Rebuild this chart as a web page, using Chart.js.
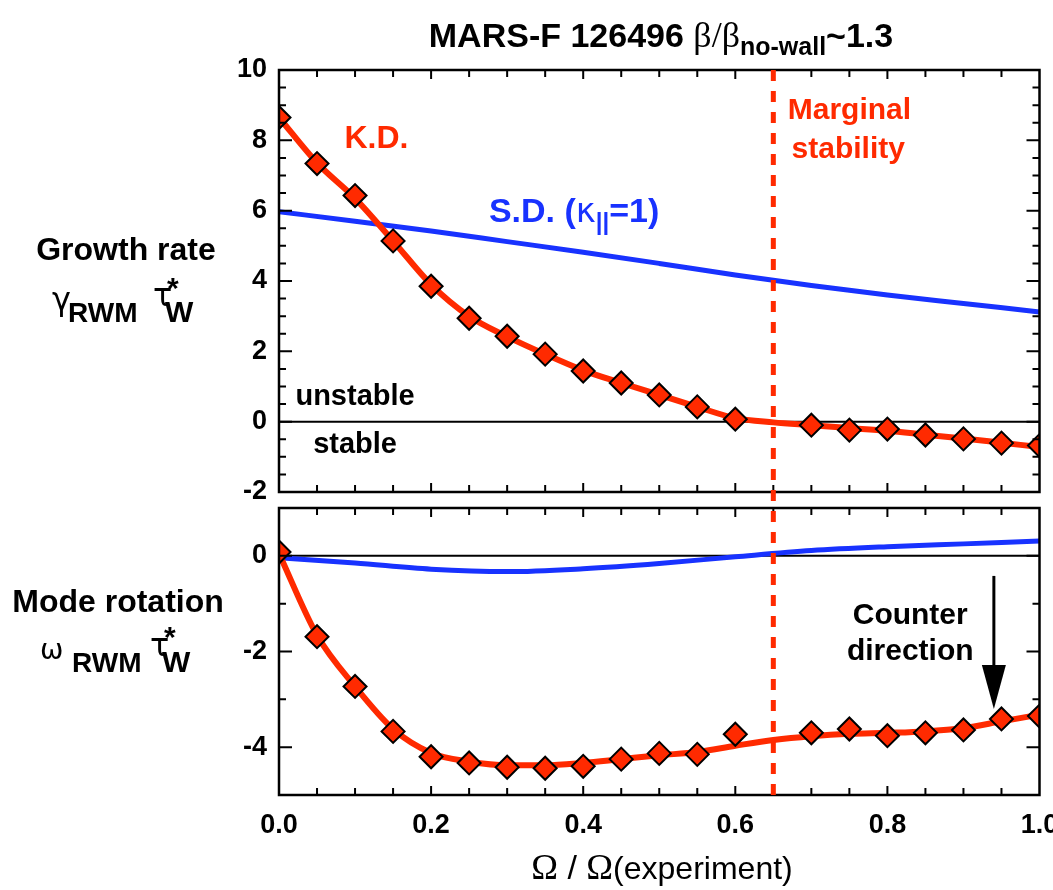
<!DOCTYPE html>
<html>
<head>
<meta charset="utf-8">
<title>MARS-F 126496</title>
<script src="https://cdn.jsdelivr.net/npm/chart.js@4.4.1/dist/chart.umd.min.js"></script>
<style>
  body { margin: 0; background: #fff; }
  #wrap { position: relative; width: 1053px; height: 890px; }
  #wrap canvas { position: absolute; left: 0; top: 0; }
</style>
</head>
<body>
<div id="wrap">
  <canvas id="growthChart" width="1053" height="890"></canvas>
  <canvas id="rotationChart" width="1053" height="890"></canvas>
</div>
<script>
// Omega / Omega(experiment) where MARS-F was run (K.D. model, 0.65 skipped)
const kdOmega = [0, 0.05, 0.1, 0.15, 0.2, 0.25, 0.3, 0.35, 0.4, 0.45, 0.5, 0.55, 0.6,
                 0.7, 0.75, 0.8, 0.85, 0.9, 0.95, 1.0];
const kdGrowth = [8.65, 7.34, 6.43, 5.14, 3.85, 2.94, 2.43, 1.92, 1.44, 1.10, 0.76, 0.42, 0.07,
                  -0.10, -0.24, -0.21, -0.38, -0.49, -0.61, -0.68];
const kdRotation = [0.08, -1.69, -2.73, -3.67, -4.20, -4.33, -4.42, -4.44, -4.40, -4.25, -4.13, -4.15, -3.73,
                    -3.70, -3.62, -3.76, -3.70, -3.64, -3.41, -3.35];

// smooth K.D. fit curves
const fitOmega = [0, 0.05, 0.1, 0.15, 0.2, 0.25, 0.3, 0.35, 0.4, 0.45, 0.5,
                  0.55, 0.6, 0.65, 0.7, 0.75, 0.8, 0.85, 0.9, 0.95, 1.0];
const kdGrowthFit = [8.65, 7.36, 6.35, 5.14, 3.9, 3.0, 2.42, 1.92, 1.46, 1.1, 0.76,
                     0.42, 0.1, -0.02, -0.1, -0.18, -0.26, -0.37, -0.48, -0.6, -0.72];
const kdRotationFit = [0.05, -1.66, -2.73, -3.62, -4.12, -4.3, -4.38, -4.38, -4.33, -4.25, -4.17,
                       -4.1, -3.97, -3.85, -3.77, -3.72, -3.7, -3.67, -3.6, -3.46, -3.32];

// S.D. model (kappa_par = 1)
const sdOmega = [0, 0.1, 0.2, 0.3, 0.4, 0.5, 0.6, 0.7, 0.8, 0.9, 1.0];
const sdGrowth = [5.97, 5.7, 5.42, 5.12, 4.82, 4.5, 4.17, 3.87, 3.6, 3.36, 3.12];
const sdRotation = [-0.04, -0.15, -0.28, -0.33, -0.27, -0.16, -0.02, 0.11, 0.19, 0.25, 0.31];

const marginalOmega = 0.65;

const RED = '#ff2a00';
const BLUE = '#1832ff';
const SANS = '"Liberation Sans", Arial, sans-serif';
const SERIF = '"Liberation Serif", "Times New Roman", serif';
const GREEK = '"DejaVu Sans", sans-serif';

function f(size, weight, fam) {
    return (weight || 'bold') + ' ' + size + 'px ' + (fam || SANS);
}

function pts(xs, ys) {
    return xs.map((x, i) => ({ x: x, y: ys[i] }));
}

// draws a row of text pieces with different fonts on one baseline
function drawRuns(ctx, runs, x, y, align, color) {
    let w = 0;
    runs.forEach(r => {
        ctx.font = r.font;
        r.w = ctx.measureText(r.text).width;
        w += r.w;
    });
    let cx = align === 'center' ? x - w / 2 : (align === 'right' ? x - w : x);
    ctx.textAlign = 'left';
    ctx.textBaseline = 'alphabetic';
    runs.forEach(r => {
        ctx.font = r.font;
        ctx.fillStyle = r.color || color || '#000';
        ctx.fillText(r.text, cx, y + (r.dy || 0));
        cx += r.w;
    });
}

const panelDecor = {
    id: 'panelDecor',
    beforeDatasetsDraw(chart) {
        const { ctx, chartArea: a, scales: { y } } = chart;
        const y0 = y.getPixelForValue(0);
        ctx.save();
        ctx.strokeStyle = '#000';
        ctx.lineWidth = 2;
        ctx.beginPath();
        ctx.moveTo(a.left, y0);
        ctx.lineTo(a.right, y0);
        ctx.stroke();
        ctx.restore();
    },
    afterDatasetsDraw(chart, args, opts) {
        const { ctx, chartArea: a, scales: { x, y } } = chart;
        ctx.save();

        // frame with inward ticks on all four sides
        ctx.strokeStyle = '#000';
        ctx.lineWidth = 2.5;
        ctx.strokeRect(a.left, a.top, a.right - a.left, a.bottom - a.top);
        ctx.lineWidth = 2;
        ctx.beginPath();
        x.ticks.forEach(t => {
            if (t.value <= x.min + 1e-9 || t.value >= x.max - 1e-9) return;
            const px = x.getPixelForValue(t.value);
            const len = t.label ? 9 : 7;
            ctx.moveTo(px, a.bottom); ctx.lineTo(px, a.bottom - len);
            ctx.moveTo(px, a.top); ctx.lineTo(px, a.top + len);
        });
        y.ticks.forEach(t => {
            if (t.value <= y.min + 1e-9 || t.value >= y.max - 1e-9) return;
            const py = y.getPixelForValue(t.value);
            const len = t.label ? 13 : 7;
            ctx.moveTo(a.left, py); ctx.lineTo(a.left + len, py);
            ctx.moveTo(a.right, py); ctx.lineTo(a.right - len, py);
        });
        ctx.stroke();

        // marginal stability marker, drawn once across both panels
        if (opts.marker) {
            const top = Chart.getChart('growthChart').chartArea.top;
            const px = x.getPixelForValue(marginalOmega);
            ctx.strokeStyle = RED;
            ctx.lineWidth = 5;
            ctx.setLineDash([11, 10]);
            ctx.beginPath();
            ctx.moveTo(px, top);
            ctx.lineTo(px, a.bottom);
            ctx.stroke();
            ctx.setLineDash([]);
        }

        // arrow
        if (opts.arrow) {
            const ar = opts.arrow;
            const px = x.getPixelForValue(ar.x);
            const y1 = y.getPixelForValue(ar.from);
            const y2 = y.getPixelForValue(ar.to);
            ctx.strokeStyle = '#000';
            ctx.fillStyle = '#000';
            ctx.lineWidth = 3;
            ctx.beginPath();
            ctx.moveTo(px, y1);
            ctx.lineTo(px, y2 - 40);
            ctx.stroke();
            ctx.beginPath();
            ctx.moveTo(px - 12, y2 - 44);
            ctx.lineTo(px + 12, y2 - 44);
            ctx.lineTo(px, y2);
            ctx.closePath();
            ctx.fill();
        }

        // notes placed in data coordinates
        (opts.notes || []).forEach(n => {
            drawRuns(ctx, n.runs, x.getPixelForValue(n.x), y.getPixelForValue(n.y), n.align, n.color);
        });

        // free text around the panel (title, axis names)
        (opts.labels || []).forEach(l => {
            drawRuns(ctx, l.runs, l.x, l.y, l.align, '#000');
        });
        ctx.restore();
    }
};

const tickFont = { family: '"Liberation Sans", Arial, sans-serif', size: 27, weight: 'bold' };

function xLabel(v) {
    const k = Math.round(v * 20);
    return k % 4 === 0 ? (k / 20).toFixed(1) : '';
}

function evenLabel(v) {
    const k = Math.round(v * 2);
    return k % 4 === 0 ? String(k / 2) : '';
}

function makePanel(id, cfg) {
    return new Chart(document.getElementById(id), {
        type: 'line',
        data: {
            datasets: [
                {
                    label: 'K.D. points',
                    data: pts(kdOmega, cfg.kd),
                    showLine: false,
                    pointStyle: 'rectRot',
                    pointRadius: 11.5,
                    pointBackgroundColor: RED,
                    pointBorderColor: '#000',
                    pointBorderWidth: 2,
                    clip: 0,
                    order: 0
                },
                {
                    label: 'K.D.',
                    data: pts(fitOmega, cfg.kdFit),
                    borderColor: RED,
                    borderWidth: 6,
                    pointRadius: 0,
                    cubicInterpolationMode: 'monotone',
                    clip: 0,
                    order: 1
                },
                {
                    label: 'S.D.',
                    data: pts(sdOmega, cfg.sd),
                    borderColor: BLUE,
                    borderWidth: 5,
                    pointRadius: 0,
                    cubicInterpolationMode: 'monotone',
                    clip: 0,
                    order: 2
                }
            ]
        },
        options: {
            responsive: false,
            animation: false,
            devicePixelRatio: 1,
            layout: { padding: cfg.padding },
            plugins: {
                legend: { display: false },
                tooltip: { enabled: false },
                panelDecor: cfg.decor
            },
            scales: {
                x: {
                    type: 'linear',
                    min: 0,
                    max: 1,
                    afterFit: s => { s.height = cfg.xHeight; s.paddingLeft = 0; s.paddingRight = 0; },
                    grid: { display: false, drawTicks: false },
                    border: { display: false },
                    ticks: {
                        display: cfg.xLabels,
                        stepSize: 0.05,
                        autoSkip: false,
                        maxRotation: 0,
                        padding: 14,
                        color: '#000',
                        font: tickFont,
                        callback: xLabel
                    }
                },
                y: {
                    type: 'linear',
                    min: cfg.yMin,
                    max: cfg.yMax,
                    afterFit: s => { s.width = 279; },
                    grid: { display: false, drawTicks: false },
                    border: { display: false },
                    ticks: {
                        stepSize: cfg.yStep,
                        autoSkip: false,
                        padding: 12,
                        color: '#000',
                        font: tickFont,
                        callback: evenLabel
                    }
                }
            }
        },
        plugins: [panelDecor]
    });
}

// upper panel: growth rate
makePanel('growthChart', {
    kd: kdGrowth,
    kdFit: kdGrowthFit,
    sd: sdGrowth,
    yMin: -2, yMax: 10, yStep: 0.5,
    xHeight: 0, xLabels: false,
    padding: { top: 70, bottom: 398, left: 0, right: 10 },
    decor: {
        notes: [
            { x: 0.086, y: 7.77, color: RED, runs: [{ text: 'K.D.', font: f(32) }] },
            { x: 0.276, y: 5.67, color: BLUE, runs: [
                { text: 'S.D. (', font: f(34) },
                { text: 'κ', font: f(34, 'normal', GREEK) },
                { text: '||', font: f(24), dy: 8 },
                { text: '=1)', font: f(34) }
            ] },
            { x: 0.669, y: 8.6, color: RED, runs: [{ text: 'Marginal', font: f(30) }] },
            { x: 0.674, y: 7.49, color: RED, runs: [{ text: 'stability', font: f(30) }] },
            { x: 0.1, y: 0.47, align: 'center', runs: [{ text: 'unstable', font: f(29) }] },
            { x: 0.1, y: -0.89, align: 'center', runs: [{ text: 'stable', font: f(29) }] }
        ],
        labels: [
            { x: 661, y: 47, align: 'center', runs: [
                { text: 'MARS-F 126496 ', font: f(34) },
                { text: 'β/β', font: f(36, 'normal', SERIF) },
                { text: 'no-wall', font: f(25), dy: 8 },
                { text: '~1.3', font: f(34) }
            ] },
            { x: 126, y: 260, align: 'center', runs: [{ text: 'Growth rate', font: f(32) }] },
            { x: 52, y: 310, runs: [{ text: 'γ', font: f(32, 'normal', GREEK) }] },
            { x: 68, y: 322, runs: [{ text: 'RWM', font: f(28) }] },
            { x: 153, y: 306, runs: [{ text: 'τ', font: f(32, 'normal', GREEK) }] },
            { x: 167, y: 298, runs: [{ text: '*', font: f(30) }] },
            { x: 165, y: 322, runs: [{ text: 'W', font: f(30) }] }
        ]
    }
});

// lower panel: mode rotation frequency
makePanel('rotationChart', {
    kd: kdRotation,
    kdFit: kdRotationFit,
    sd: sdRotation,
    yMin: -5, yMax: 1, yStep: 1,
    xHeight: 95, xLabels: true,
    padding: { top: 508, bottom: 0, left: 0, right: 10 },
    decor: {
        marker: true,
        arrow: { x: 0.94, from: -0.42, to: -3.2 },
        notes: [
            { x: 0.83, y: -1.42, align: 'center', runs: [{ text: 'Counter', font: f(30) }] },
            { x: 0.83, y: -2.17, align: 'center', runs: [{ text: 'direction', font: f(30) }] }
        ],
        labels: [
            { x: 118, y: 612, align: 'center', runs: [{ text: 'Mode rotation', font: f(32) }] },
            { x: 40, y: 659, runs: [{ text: 'ω', font: f(28, 'normal', GREEK) }] },
            { x: 72, y: 672, runs: [{ text: 'RWM', font: f(28) }] },
            { x: 150, y: 656, runs: [{ text: 'τ', font: f(32, 'normal', GREEK) }] },
            { x: 164, y: 647, runs: [{ text: '*', font: f(30) }] },
            { x: 162, y: 672, runs: [{ text: 'W', font: f(30) }] },
            { x: 662, y: 879, align: 'center', runs: [
                { text: 'Ω', font: f(36, 'normal', SERIF) },
                { text: ' / ', font: f(34, 'normal') },
                { text: 'Ω', font: f(36, 'normal', SERIF) },
                { text: '(experiment)', font: f(32, 'normal') }
            ] }
        ]
    }
});
</script>
</body>
</html>
